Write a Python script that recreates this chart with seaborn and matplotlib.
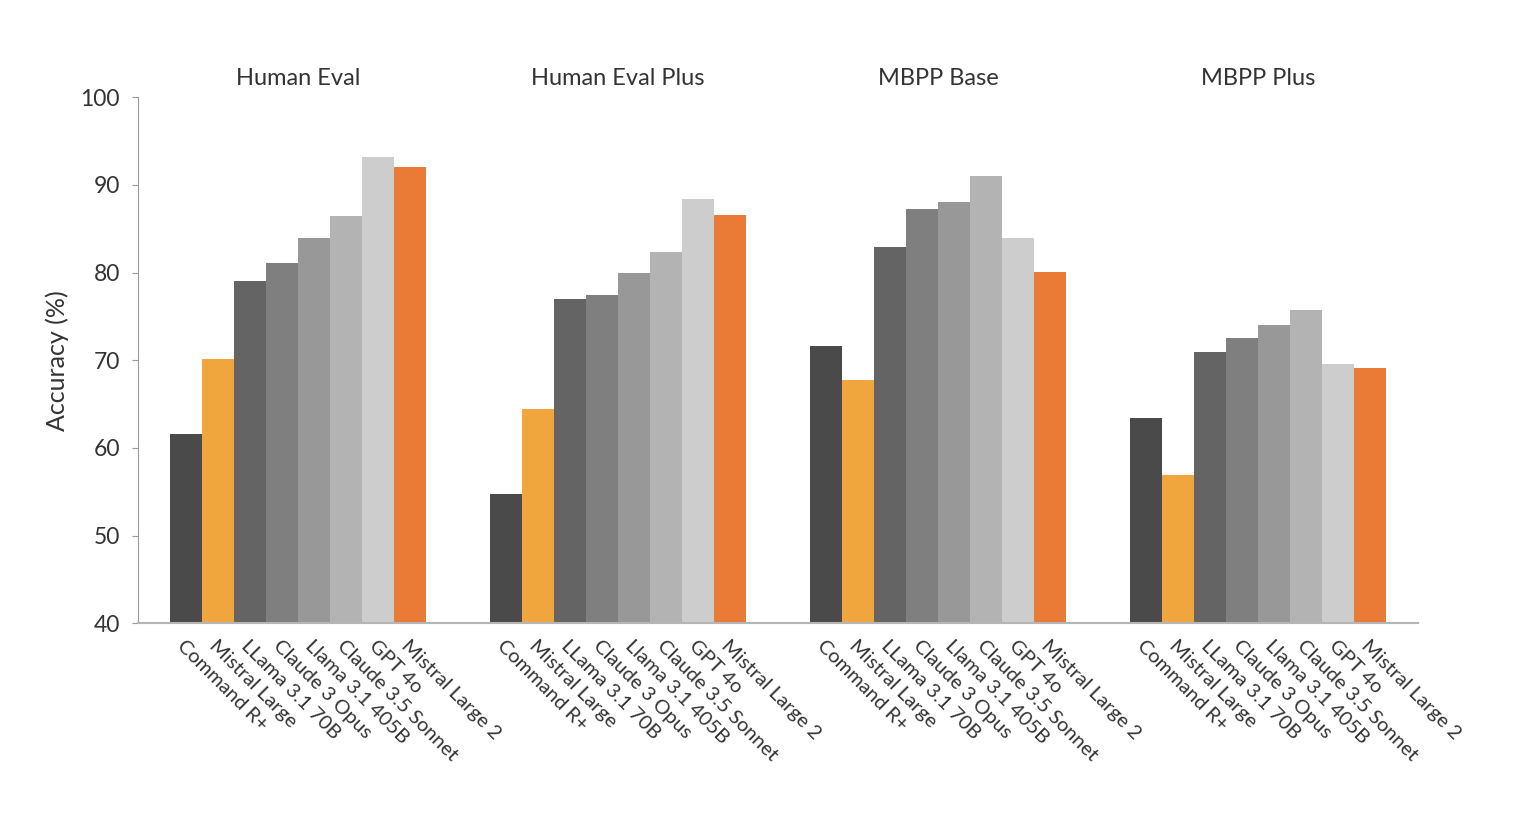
import matplotlib
matplotlib.use("Agg")
import matplotlib.pyplot as plt
import matplotlib.transforms as mtransforms
import seaborn as sns
import pandas as pd

benchmarks = ["Human Eval", "Human Eval Plus", "MBPP Base", "MBPP Plus"]
models = ["Command R+", "Mistral Large", "LLama 3.1 70B", "Claude 3 Opus",
          "Llama 3.1 405B", "Claude 3.5 Sonnet", "GPT 4o", "Mistral Large 2"]
human_eval = [61.6, 70.1, 79.0, 81.1, 83.9, 86.5, 93.2, 92.0]
human_eval_plus = [54.8, 64.5, 77.0, 77.5, 80.0, 82.4, 88.4, 86.6]
mbpp_base = [71.6, 67.7, 82.9, 87.3, 88.0, 91.0, 84.0, 80.1]
mbpp_plus = [63.4, 56.9, 71.0, 72.5, 74.0, 75.7, 69.6, 69.1]
colors = ["#4a4a4a", "#f0a63c", "#646464", "#7f7f7f",
          "#989898", "#b3b3b3", "#cdcdcd", "#e97b37"]

series = [human_eval, human_eval_plus, mbpp_base, mbpp_plus]
group_step = len(models) + 2

rows = []
for g, (bench, vals) in enumerate(zip(benchmarks, series)):
    for i, (m, v) in enumerate(zip(models, vals)):
        rows.append({"benchmark": bench, "model": m, "pos": g * group_step + i, "value": v})
df = pd.DataFrame(rows)

sns.set_theme(style="white")
plt.rcParams["font.family"] = ["Lato", "DejaVu Sans"]
text_color = "#333333"

fig = plt.figure(figsize=(15.26, 8.24), dpi=100)
ax = fig.add_axes([138 / 1526, 1 - 623.3 / 824, (1418 - 138) / 1526, (623.3 - 97.3) / 824])

sns.barplot(data=df, x="pos", y="value", hue="model", hue_order=models,
            palette=dict(zip(models, colors)), native_scale=True, dodge=False,
            width=1.0, linewidth=0, saturation=1, legend=False, ax=ax)

ax.set_xlim(-1.5, (len(benchmarks) - 1) * group_step + len(models) - 0.5 + 1)
ax.set_ylim(40, 100)
ax.set_yticks([40, 50, 60, 70, 80, 90, 100])
ax.tick_params(axis="y", left=True, length=4, width=0.8, color="#999999",
               labelsize=16.5, labelcolor=text_color, pad=9)
ax.set_xticks(df["pos"].tolist())
ax.set_xticklabels(df["model"].tolist(), rotation=-45, ha="left", va="top",
                   rotation_mode="anchor", fontsize=14.5, color=text_color)
ax.tick_params(axis="x", bottom=False, pad=4)
ax.set_xlabel("")
ax.set_ylabel("Accuracy (%)", fontsize=18, color=text_color, labelpad=8)

for s in ["top", "right"]:
    ax.spines[s].set_visible(False)
ax.spines["left"].set_color("#999999")
ax.spines["left"].set_linewidth(0.8)
ax.spines["bottom"].set_color("#b5b5b5")
ax.spines["bottom"].set_linewidth(1.5)
ax.grid(False)

trans = mtransforms.blended_transform_factory(ax.transData, ax.transAxes)
for g, bench in enumerate(benchmarks):
    cx = g * group_step + (len(models) - 1) / 2
    ax.text(cx, 1 + 12 / 526, bench, transform=trans, ha="center", va="baseline",
            fontsize=17, color=text_color)

fig.savefig("out.png", dpi=100, facecolor="white")
